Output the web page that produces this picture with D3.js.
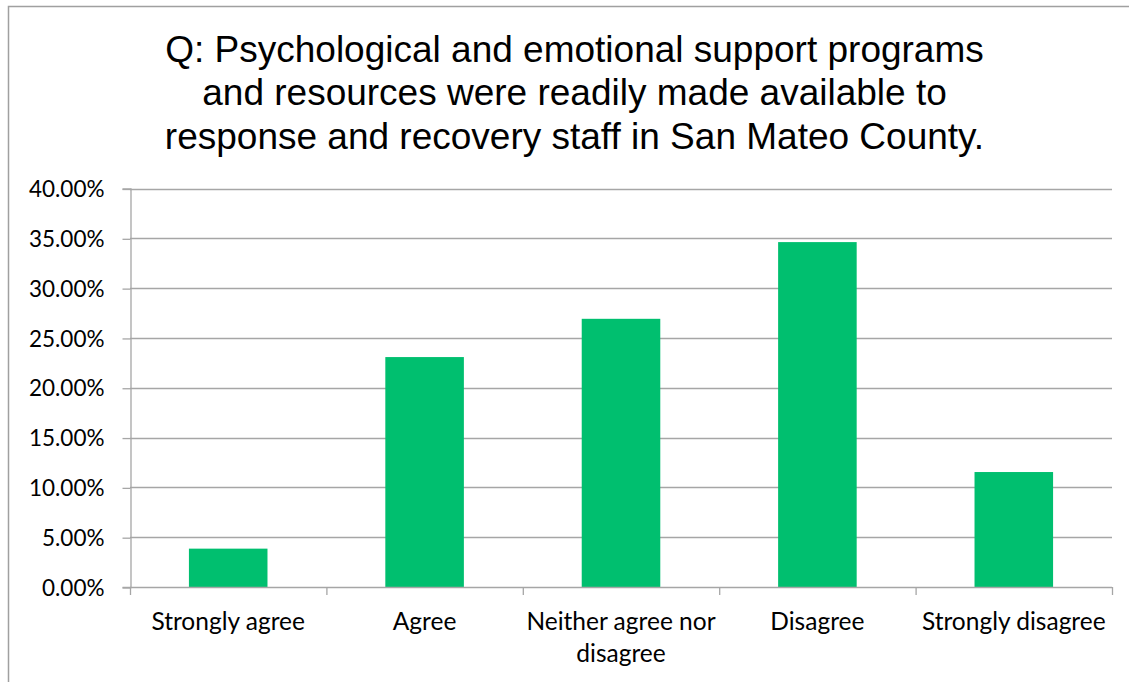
<!DOCTYPE html>
<html>
<head>
<meta charset="utf-8">
<script src="https://cdn.jsdelivr.net/npm/d3@7"></script>
<style>
  html, body { margin: 0; padding: 0; background: #fff; }
  svg { display: block; }
</style>
</head>
<body>
<svg id="chart" width="1129" height="682"></svg>
<script>
// Survey responses (share of respondents)
const categories = ["Strongly agree", "Agree", "Neither agree nor disagree", "Disagree", "Strongly disagree"];
const values = [3.85, 23.08, 26.92, 34.62, 11.54];
const yTicks = [0, 5, 10, 15, 20, 25, 30, 35, 40];
const titleLines = [
  "Q: Psychological and emotional support programs",
  "and resources were readily made available to",
  "response and recovery staff in San Mateo County."
];

const svg = d3.select("#chart");
const W = 1129, H = 682;
const plot = { left: 130, right: 1112, top: 188.5, bottom: 587 };
const gridColor = "#a6a6a6";
const barColor = "#00bf6f";
const labelFont = "Lato, 'Open Sans', sans-serif";

// outer chart frame
svg.append("rect")
  .attr("x", 8.5).attr("y", 6.5)
  .attr("width", W + 10).attr("height", H + 10)
  .attr("fill", "#fff")
  .attr("stroke", "#a0a0a0").attr("stroke-width", 1.5);

// title
svg.append("g").selectAll("text")
  .data(titleLines)
  .join("text")
  .attr("x", 574.5)
  .attr("y", (d, i) => 61.5 + i * 43.5)
  .attr("text-anchor", "middle")
  .attr("font-family", "'Liberation Sans', Arial, sans-serif")
  .attr("font-size", 37)
  .attr("fill", "#000")
  .text(d => d);

const x = d3.scaleBand()
  .domain(categories)
  .range([plot.left, plot.right])
  .paddingInner(0.6)
  .paddingOuter(0.3);

const y = d3.scaleLinear()
  .domain([0, 40])
  .range([plot.bottom, plot.top]);

// horizontal gridlines
svg.append("g").selectAll("line")
  .data(yTicks.filter(t => t > 0))
  .join("line")
  .attr("x1", plot.left).attr("x2", plot.right)
  .attr("y1", d => Math.round(y(d)) + 0.5).attr("y2", d => Math.round(y(d)) + 0.5)
  .attr("stroke", gridColor).attr("stroke-width", 1.3);

// bars
svg.append("g").selectAll("rect")
  .data(values)
  .join("rect")
  .attr("x", (d, i) => x(categories[i]))
  .attr("width", x.bandwidth())
  .attr("y", d => y(d))
  .attr("height", d => y(0) - y(d))
  .attr("fill", barColor);

// y axis
const yAxis = d3.axisLeft(y)
  .tickValues(yTicks)
  .tickSize(8)
  .tickPadding(18)
  .tickFormat(d => d.toFixed(2) + "%");
const gy = svg.append("g")
  .attr("transform", `translate(${plot.left + 0.5},0)`)
  .call(yAxis);
gy.select(".domain").attr("stroke", gridColor).attr("stroke-width", 1.3);
gy.selectAll(".tick line").attr("stroke", gridColor).attr("stroke-width", 1.3)
  .attr("transform", "translate(0,0.5)");
gy.selectAll(".tick text")
  .attr("font-family", labelFont)
  .attr("font-size", 22.5)
  .attr("fill", "#000")
  .attr("dy", "0.36em");

// x axis with category boundary ticks
const gx = svg.append("g");
gx.append("line")
  .attr("x1", plot.left).attr("x2", plot.right)
  .attr("y1", plot.bottom + 0.5).attr("y2", plot.bottom + 0.5)
  .attr("stroke", gridColor).attr("stroke-width", 1.3);
const step = x.step();
const boundaries = d3.range(categories.length + 1).map(i => plot.left + i * step);
gx.selectAll("line.tick")
  .data(boundaries)
  .join("line")
  .attr("class", "tick")
  .attr("x1", d => d + 0.5).attr("x2", d => d + 0.5)
  .attr("y1", plot.bottom).attr("y2", plot.bottom + 8)
  .attr("stroke", gridColor).attr("stroke-width", 1.3);

// category labels, wrapped to fit the category width
const labels = gx.selectAll("text.cat")
  .data(categories)
  .join("text")
  .attr("class", "cat")
  .attr("x", d => x(d) + x.bandwidth() / 2)
  .attr("y", 630)
  .attr("text-anchor", "middle")
  .attr("font-family", labelFont)
  .attr("font-size", 24.5)
  .attr("fill", "#000");

labels.each(function(d) {
  const t = d3.select(this);
  const cx = +t.attr("x");
  const words = d.split(" ");
  let line = [];
  let tspan = t.append("tspan").attr("x", cx).attr("dy", 0);
  for (const w of words) {
    line.push(w);
    tspan.text(line.join(" "));
    if (tspan.node().getComputedTextLength() > step - 4 && line.length > 1) {
      line.pop();
      tspan.text(line.join(" "));
      line = [w];
      tspan = t.append("tspan").attr("x", cx).attr("dy", 32).text(w);
    }
  }
});
</script>
</body>
</html>
